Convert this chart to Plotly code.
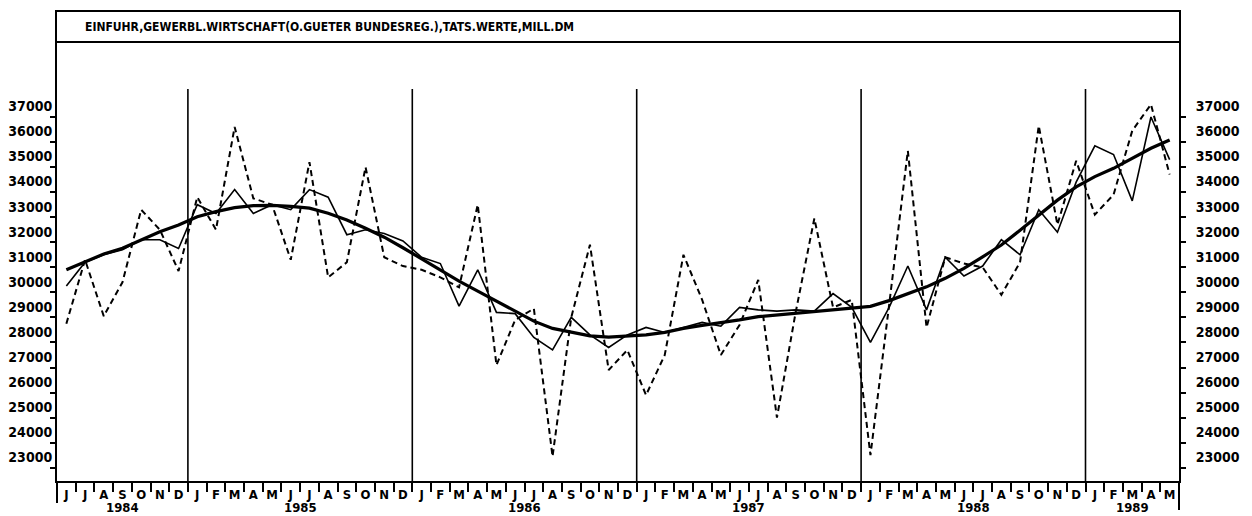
import plotly.graph_objects as go

# ---------------- data (Jun 1984 - May 1989, monthly) ----------------
month_labels = (["J", "J", "A", "S", "O", "N", "D"]
                + ["J", "F", "M", "A", "M", "J", "J", "A", "S", "O", "N", "D"] * 4
                + ["J", "F", "M", "A", "M"])
years = ["1984", "1985", "1986", "1987", "1988", "1989"]
months_per_year = [7, 12, 12, 12, 12, 5]

# original values (dashed)
raw = [28750, 31300, 29050, 30400, 33300, 32500, 30850,
       33800, 32500, 36600, 33750, 33500, 31300, 35200, 30600, 31200, 35000, 31400, 31050,
       30900, 30600, 30200, 33500, 27100, 28900, 29350, 23450, 29000, 31900, 26900, 27700,
       25900, 27500, 31500, 29700, 27500, 28700, 30500, 25000, 29200, 32950, 29400, 29700,
       23500, 29500, 35650, 28600, 31400, 31150, 31000, 29900, 31200, 36650, 32700, 35250,
       33100, 33900, 36450, 37500, 34700]

# seasonally adjusted values (thin solid)
adjusted = [30250, 31200, 31500, 31700, 32100, 32100, 31750,
            33500, 33150, 34100, 33150, 33500, 33300, 34100, 33800, 32300, 32500, 32350, 32050,
            31400, 31150, 29450, 30900, 29200, 29150, 28200, 27700, 29000, 28300, 27800, 28300,
            28600, 28400, 28600, 28800, 28650, 29400, 29300, 29250, 29300, 29250, 29950, 29400,
            28000, 29400, 31050, 29300, 31400, 30650, 31050, 32100, 31500, 33300, 32400, 34400,
            35850, 35500, 33650, 37000, 35300]

# trend (thick solid)
trend = [30900, 31230, 31530, 31760, 32100, 32420, 32690,
         33020, 33220, 33380, 33460, 33470, 33430, 33360, 33160, 32890, 32560, 32200, 31780,
         31330, 30900, 30450, 30050, 29650, 29250, 28850, 28560, 28400, 28260, 28210, 28240,
         28300, 28400, 28560, 28680, 28780, 28900, 29030, 29100, 29170, 29230, 29300, 29370,
         29440, 29670, 29950, 30220, 30560, 30960, 31420, 31890, 32480, 33080, 33680, 34210,
         34620, 34950, 35350, 35750, 36080]

y_ticks = list(range(23000, 37001, 1000))
title_text = "EINFUHR,GEWERBL.WIRTSCHAFT(O.GUETER BUNDESREG.),TATS.WERTE,MILL.DM"

# ---------------- derived positions ----------------
n = len(raw)
xpos = [i + 0.5 for i in range(n)]
boundaries = []
acc = 0
year_centers = []
for m in months_per_year:
    year_centers.append(acc + m / 2)
    acc += m
    boundaries.append(acc)
year_lines = boundaries[:-1]

FONT = "DejaVu Sans Condensed, DejaVu Sans, sans-serif"
PLOT_H = 469.0  # plot-area height in px (for paper-coordinate offsets)

fig = go.Figure()
fig.add_trace(go.Scatter(x=xpos, y=raw, mode="lines",
                         line=dict(color="black", width=2, dash="6px,4px")))
fig.add_trace(go.Scatter(x=xpos, y=adjusted, mode="lines",
                         line=dict(color="black", width=1.6)))
fig.add_trace(go.Scatter(x=xpos, y=trend, mode="lines", yaxis="y2",
                         line=dict(color="black", width=3.2)))

yrange = [22470, 41190]
tickfont = dict(family=FONT, size=14, color="black", weight="bold")

# page has an 8px body margin, so the figure is 8px smaller each way
fig.update_layout(
    width=1244, height=508,
    margin=dict(l=49, r=73, t=4, b=35),
    paper_bgcolor="white", plot_bgcolor="white",
    showlegend=False,
    xaxis=dict(range=[0, n], tickvals=xpos, ticktext=month_labels, ticks="",
               showline=True, linecolor="black", linewidth=2, mirror=True,
               showgrid=False, zeroline=False, automargin=False,
               tickfont=dict(family=FONT, size=13, color="black", weight="bold"),
               minor=dict(tickvals=list(range(0, n + 1)), ticks="outside", ticklen=9,
                          tickwidth=1.5, tickcolor="black", showgrid=False)),
    yaxis=dict(range=yrange, tickvals=y_ticks, ticktext=[str(v) for v in y_ticks],
               ticks="outside", ticklen=5, tickwidth=1.5, tickcolor="black",
               showline=True, linecolor="black", linewidth=2, automargin=False,
               showgrid=False, zeroline=False, ticklabelposition="outside top",
               tickfont=tickfont),
    yaxis2=dict(range=yrange, overlaying="y", side="right",
                tickvals=y_ticks, ticktext=[str(v) for v in y_ticks],
                ticks="outside", ticklen=5, tickwidth=1.5, tickcolor="black",
                showline=True, linecolor="black", linewidth=2, automargin=False,
                showgrid=False, zeroline=False, ticklabelposition="outside top",
                ticklabelstandoff=12, tickfont=tickfont),
)

shapes = []
# title box bottom line
shapes.append(dict(type="line", xref="paper", yref="paper", x0=0, x1=1,
                   y0=1 - 30 / PLOT_H, y1=1 - 30 / PLOT_H,
                   line=dict(color="black", width=2)))
# year separator lines
for b in year_lines:
    shapes.append(dict(type="line", xref="x", yref="paper", x0=b, x1=b,
                       y0=0, y1=(481 - 89) / PLOT_H,
                       line=dict(color="black", width=1.6)))
# border extensions below the axis
shapes.append(dict(type="line", xref="paper", yref="paper", x0=0, x1=0,
                   y0=0, y1=-22 / PLOT_H, line=dict(color="black", width=2)))
shapes.append(dict(type="line", xref="paper", yref="paper", x0=1, x1=1,
                   y0=0, y1=-29 / PLOT_H, line=dict(color="black", width=2)))
fig.update_layout(shapes=shapes)

annotations = [dict(text=title_text, xref="paper", yref="paper",
                    x=(83 - 57) / 1122, y=1 - 15 / PLOT_H, xanchor="left", yanchor="middle",
                    showarrow=False,
                    font=dict(family=FONT, size=12, color="black", weight="bold"))]
for yr, c in zip(years, year_centers):
    annotations.append(dict(text=yr, xref="x", yref="paper", x=c, y=-26 / PLOT_H,
                            xanchor="center", yanchor="middle", showarrow=False,
                            font=dict(family=FONT, size=13, color="black", weight="bold")))
fig.update_layout(annotations=annotations)

fig.write_html("out.html")
